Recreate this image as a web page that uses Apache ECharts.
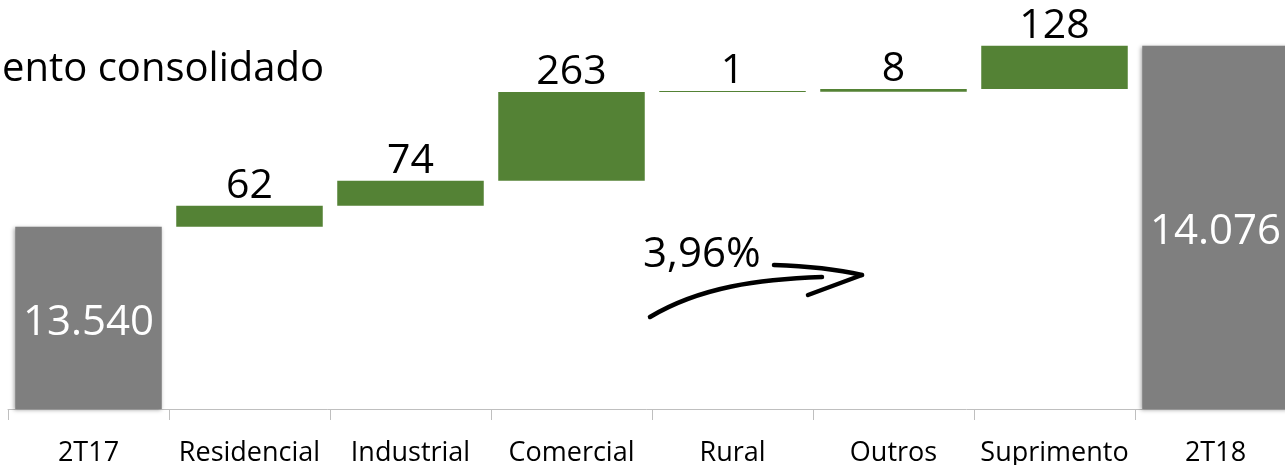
<!DOCTYPE html>
<html><head><meta charset="utf-8">
<script src="https://cdn.jsdelivr.net/npm/echarts@6/dist/echarts.min.js"></script>
<style>html,body{margin:0;padding:0;background:#fff}#c{width:1285px;height:465px}</style>
</head><body><div id="c"></div>
<script>
const categories = ['2T17','Residencial','Industrial','Comercial','Rural','Outros','Suprimento','2T18'];
const values = [13540, 62, 74, 263, 1, 8, 128, 14076];
const isTotal = [true, false, false, false, false, false, false, true];
const valueLabels = ['13.540','62','74','263','1','8','128','14.076'];
const titleText = 'ento consolidado';
const growthText = '3,96%';

const FONT = '"Open Sans", sans-serif';
const base = [], visible = [];
let run = 0;
values.forEach((v, i) => {
  if (isTotal[i]) { base.push(0); visible.push(v); run = v; }
  else { base.push(run); visible.push(v); run += v; }
});

const chart = echarts.init(document.getElementById('c'), null, {renderer:'canvas'});
chart.setOption({
  animation: false,
  title: { text: titleText, left: -3, top: 45, textStyle: { fontFamily: FONT, fontSize: 40, fontWeight: 'normal', color: '#000' } },
  grid: { left: 8, width: 1288, top: 4, bottom: 56, containLabel: false, outerBoundsMode: 'none' },
  xAxis: {
    type: 'category', data: categories,
    axisLine: { lineStyle: { color: '#bfbfbf', width: 1 } },
    axisTick: { show: true, length: 11, lineStyle: { color: '#bfbfbf' } },
    axisLabel: { fontFamily: FONT, fontSize: 27, color: '#000', margin: 31, interval: 0 }
  },
  yAxis: { type: 'value', min: 13000, max: 14200, show: false, splitLine: { show: false } },
  series: [
    { type: 'bar', stack: 'w', barWidth: '91%', silent: true,
      data: base.map((b, i) => isTotal[i] ? '-' : b),
      itemStyle: { color: 'transparent' } },
    { type: 'bar', stack: 'w', barWidth: '91%', barMinHeight: 1,
      data: visible.map((v, i) => ({
        value: v,
        itemStyle: isTotal[i]
          ? { color: '#7f7f7f', shadowColor: 'rgba(0,0,0,0.35)', shadowBlur: 4, shadowOffsetX: -1, shadowOffsetY: 1 }
          : { color: '#548235' },
        label: isTotal[i]
          ? { show: true, position: 'inside', color: '#fff', fontSize: 42, fontFamily: FONT, formatter: valueLabels[i], offset: [0, 5] }
          : { show: true, position: 'top', color: '#000', fontSize: 41, fontFamily: FONT, distance: -1, formatter: valueLabels[i] }
      }))
    }
  ],
  graphic: [
    { type: 'text', left: 643, top: 234, style: { text: growthText, fontFamily: FONT, fontSize: 42, fill: '#000' } },
    { type: 'bezierCurve', shape: { x1: 650, y1: 317, cpx1: 700, cpy1: 287, cpx2: 760, cpy2: 279, x2: 822, y2: 277 },
      style: { stroke: '#000', lineWidth: 4.5, fill: null, lineCap: 'round' } },
    { type: 'bezierCurve', shape: { x1: 774, y1: 265, cpx1: 805, cpy1: 266, cpx2: 840, cpy2: 270, x2: 862, y2: 275 },
      style: { stroke: '#000', lineWidth: 4.5, fill: null, lineCap: 'round' } },
    { type: 'line', shape: { x1: 862, y1: 275, x2: 808, y2: 295 },
      style: { stroke: '#000', lineWidth: 4.5, lineCap: 'round' } }
  ]
});
</script></body></html>
